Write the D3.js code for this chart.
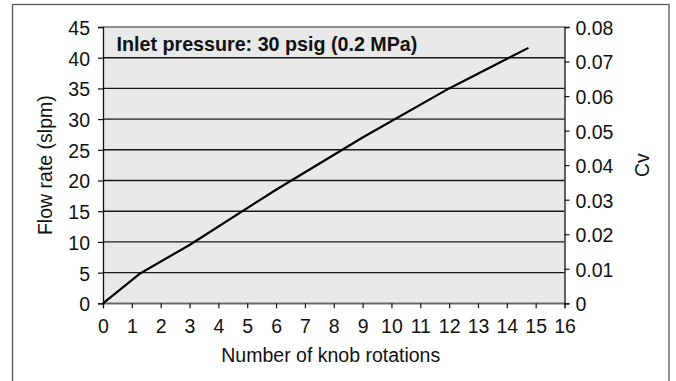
<!DOCTYPE html>
<html>
<head>
<meta charset="utf-8">
<script src="https://cdn.jsdelivr.net/npm/d3@7"></script>
<style>
  html, body { margin: 0; padding: 0; background: #fff; }
  svg { display: block; font-family: "Liberation Sans", Arial, Helvetica, sans-serif; }
</style>
</head>
<body>
<svg id="chart" width="676" height="381"></svg>
<script>
// Flow vs. knob rotations at 30 psig inlet
const rotations = [0, 1.3, 3, 6, 9, 12, 14.75];
const flowSlpm  = [0, 4.9, 9.5, 18.5, 27, 35, 41.6];
const flowTicks = [0, 5, 10, 15, 20, 25, 30, 35, 40, 45];
const cvTicks   = [0, 0.01, 0.02, 0.03, 0.04, 0.05, 0.06, 0.07, 0.08];
const rotTicks  = d3.range(0, 17);

const titleText = "Inlet pressure: 30 psig (0.2 MPa)";
const xTitle = "Number of knob rotations";
const yTitle = "Flow rate (slpm)";
const y2Title = "Cv";

const svg = d3.select("#chart");
const m = { left: 103, right: 564.5, top: 27, bottom: 303.3 };
const fs = 19.5;

const x = d3.scaleLinear().domain([0, 16]).range([m.left, m.right]);
const y = d3.scaleLinear().domain([0, 45]).range([m.bottom, m.top]);
const y2 = d3.scaleLinear().domain([0, 0.08]).range([m.bottom, m.top]);

// outer frame
svg.append("rect")
  .attr("x", 12.5).attr("y", 4.5).attr("width", 656.5).attr("height", 400)
  .attr("fill", "none").attr("stroke", "#555").attr("stroke-width", 1.3);

// plot background
svg.append("rect")
  .attr("x", m.left).attr("y", m.top)
  .attr("width", m.right - m.left).attr("height", m.bottom - m.top)
  .attr("fill", "#e8e9e8");

// horizontal gridlines
svg.append("g").selectAll("line").data(flowTicks).join("line")
  .attr("x1", m.left).attr("x2", m.right)
  .attr("y1", d => y(d)).attr("y2", d => y(d))
  .attr("stroke", d => (d === 0 || d === 45) ? "#6a6a6a" : "#1a1a1a")
  .attr("stroke-width", 1.4);

// axes
const gx = svg.append("g").attr("transform", `translate(0,${m.bottom})`)
  .call(d3.axisBottom(x).tickValues(rotTicks).tickSize(5).tickPadding(11).tickFormat(d3.format("d")));
const gy = svg.append("g").attr("transform", `translate(${m.left},0)`)
  .call(d3.axisLeft(y).tickValues(flowTicks).tickSize(5).tickPadding(8).tickFormat(d3.format("d")));
const gy2 = svg.append("g").attr("transform", `translate(${m.right},0)`)
  .call(d3.axisRight(y2).tickValues(cvTicks).tickSize(5).tickPadding(6)
    .tickFormat(d => d === 0 ? "0" : d3.format(".2f")(d)));

[gx, gy, gy2].forEach(g => {
  g.select(".domain").attr("stroke", "#111").attr("stroke-width", 1.3);
  g.selectAll(".tick line").attr("stroke", "#111").attr("stroke-width", 1.2);
  g.selectAll("text").style("font-size", fs + "px").attr("fill", "#111")
    .style("font-family", "'Liberation Sans', Arial, sans-serif");
});
gx.select(".domain").attr("stroke", "#6a6a6a");
gy.selectAll(".tick text").attr("dy", "0.38em");
gy2.selectAll(".tick text").attr("dy", "0.38em");

// flow line
const pts = rotations.map((r, i) => [r, flowSlpm[i]]);
svg.append("path")
  .datum(pts)
  .attr("fill", "none").attr("stroke", "#000").attr("stroke-width", 2.2)
  .attr("stroke-linejoin", "round")
  .attr("d", d3.line().x(d => x(d[0])).y(d => y(d[1])));

// chart annotation
svg.append("text")
  .attr("x", 116.5).attr("y", 50.5)
  .style("font-size", "19.7px").style("font-weight", "bold").attr("fill", "#111")
  .text(titleText);

// axis titles
svg.append("text")
  .attr("x", (m.left + m.right) / 2 - 3).attr("y", 361.5)
  .attr("text-anchor", "middle").style("font-size", fs + "px").attr("fill", "#111")
  .text(xTitle);
svg.append("text")
  .attr("transform", `translate(52,${(m.top + m.bottom) / 2}) rotate(-90)`)
  .attr("text-anchor", "middle").style("font-size", fs + "px").attr("fill", "#111")
  .text(yTitle);
svg.append("text")
  .attr("transform", `translate(649,${(m.top + m.bottom) / 2}) rotate(-90)`)
  .attr("text-anchor", "middle").style("font-size", fs + "px").attr("fill", "#111")
  .text(y2Title);
</script>
</body>
</html>
